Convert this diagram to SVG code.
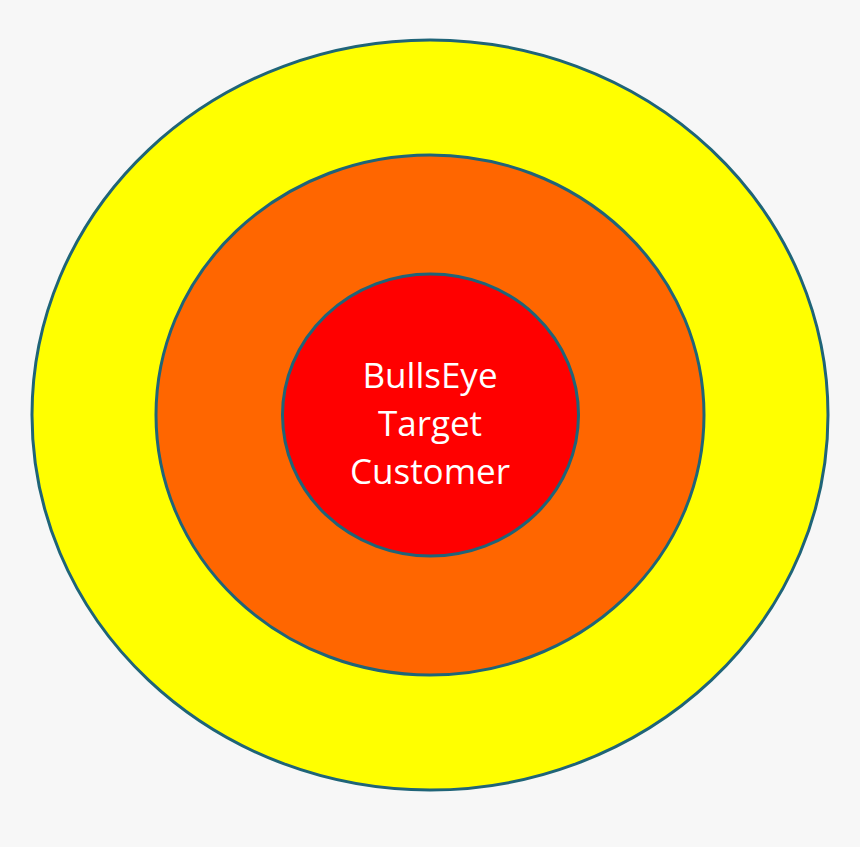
<svg xmlns="http://www.w3.org/2000/svg" width="860" height="847" viewBox="0 0 860 847">
<style>
.ring{stroke:#1F6478;stroke-width:3}
.lbl{font-family:"Open Sans","Liberation Sans",sans-serif;font-size:35px;fill:#FFFFFF;text-anchor:middle}
</style>
<rect width="860" height="847" fill="#F7F7F7"/>
<g id="outer"><ellipse class="ring" cx="430" cy="415" rx="398" ry="375" fill="#FFFF00"/></g>
<g id="middle"><ellipse class="ring" cx="430" cy="415" rx="274" ry="260" fill="#FF6600"/></g>
<g id="inner"><ellipse class="ring" cx="430.5" cy="415" rx="148" ry="141" fill="#FF0000"/>
<text class="lbl" x="430" y="388">BullsEye</text>
<text class="lbl" x="430" y="436">Target</text>
<text class="lbl" x="430" y="484">Customer</text>
</g>
</svg>
